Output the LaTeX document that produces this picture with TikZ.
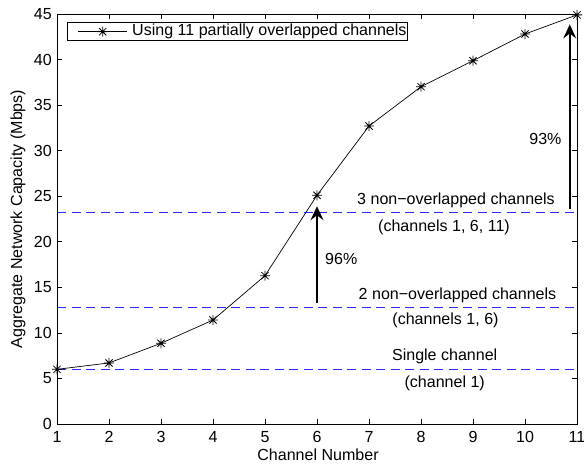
\documentclass[tikz,border=0pt]{standalone}
\usepackage{fontspec}
\setmainfont{Liberation Sans}
\usetikzlibrary{arrows.meta}

\definecolor{levelblue}{RGB}{40,40,255}

\tikzset{
  axisline/.style={line width=0.9bp, black},
  tickline/.style={line width=0.7bp, black},
  dataline/.style={line width=0.7bp, black},
  levelline/.style={line width=1.1bp, draw=levelblue, dash pattern=on 9bp off 5.5bp},
  gainarrow/.style={line width=1.6bp, black, -{Stealth[length=14bp,width=13bp,inset=5bp]}},
  ticklabel/.style={inner sep=0pt},
  note/.style={inner sep=0pt},
  asterisk/.pic={
    \draw[line width=0.8bp] (-5,0)--(5,0) (0,-5)--(0,5)
      (-3.6,-3.6)--(3.6,3.6) (-3.6,3.6)--(3.6,-3.6);
  },
}

\begin{document}
\begin{tikzpicture}[x=1bp, y=1bp, font=\fontsize{16.1}{19}\selectfont]
\useasboundingbox (0,0) rectangle (584,466);

% plot frame corners (axis units: channel, Mbps)
\begin{scope}[x=52bp, y=9.1111bp, shift={(5bp,42bp)}]
  \coordinate (ll) at (1,0);
  \coordinate (ur) at (11,45);
  % measured capacities
  \foreach \c/\v in {1/6.0, 2/6.7, 3/8.86, 4/11.41, 5/16.28, 6/25.1,
                     7/32.7, 8/37.02, 9/39.87, 10/42.8, 11/44.9}
    \coordinate (p\c) at (\c,\v);
  % gain arrows
  \coordinate (a1s) at (6,13.25);     \coordinate (a1e) at (6,23.9);
  \coordinate (a2s) at (10.86,23.6);  \coordinate (a2e) at (10.86,43.85);
\end{scope}

% reference levels (5.95, 12.8 and 23.25 Mbps)
\coordinate (l1a) at (57,96.5);   \coordinate (l1b) at (577,96.5);
\coordinate (l2a) at (57,158.5);  \coordinate (l2b) at (577,158.5);
\coordinate (l3a) at (57,253.5);  \coordinate (l3b) at (577,253.5);
\draw[levelline] (l1a) -- (l1b);
\draw[levelline] (l2a) -- (l2b);
\draw[levelline] (l3a) -- (l3b);

% ticks and tick labels
\begin{scope}[x=52bp, y=9.1111bp, shift={(5bp,42bp)}]
  \foreach \c in {1,...,11} {
    \draw[tickline] (\c,0) -- ++(0,5bp);
    \draw[tickline] (\c,45) -- ++(0,-5bp);
    \node[ticklabel, anchor=north] at ([yshift=-7bp]\c,0) {\c};
  }
  \foreach \v in {0,5,...,45} {
    \draw[tickline] (1,\v) -- ++(5bp,0);
    \draw[tickline] (11,\v) -- ++(-5bp,0);
    \node[ticklabel, anchor=east] at ([xshift=-5bp]1,\v) {\v};
  }
\end{scope}

% capacity curve
\draw[dataline] (p1) \foreach \c in {2,...,11} { -- (p\c) };
\foreach \c in {1,...,11} \path (p\c) pic{asterisk};

% frame
\draw[axisline] (ll) rectangle (ur);

% gain arrows
\draw[gainarrow] (a1s) -- (a1e);
\draw[gainarrow] (a2s) -- (a2e);

% annotations
\node[note] (t3a) at (456,265.5) {3 non−overlapped channels};
\node[note] (t3b) at (444,238.5) {(channels 1, 6, 11)};
\node[note] (t2a) at (457.5,171) {2 non−overlapped channels};
\node[note] (t2b) at (445.5,146) {(channels 1, 6)};
\node[note] (t1a) at (444.7,110) {Single channel};
\node[note] (t1b) at (444.7,83) {(channel 1)};
\node[note, anchor=west] (g1) at (325,207) {96\%};
\node[note, anchor=east] (g2) at (561.7,327) {93\%};

% axis titles
\node[note] (xl) at (318,11) {Channel Number};
\node[note, rotate=90] (yl) at (18,247) {Aggregate Network Capacity (Mbps)};

% legend
\draw[line width=0.8bp, fill=white] (67,425.3) rectangle (407,443.3);
\coordinate (lg1) at (77.7,434.3);
\coordinate (lg2) at (126.7,434.3);
\coordinate (lgm) at (102.7,434.3);
\draw[dataline] (lg1) -- (lg2);
\path (lgm) pic{asterisk};
\node[note, anchor=west] (lgt) at (132,434.3) {Using 11 partially overlapped channels};
\end{tikzpicture}
\end{document}
